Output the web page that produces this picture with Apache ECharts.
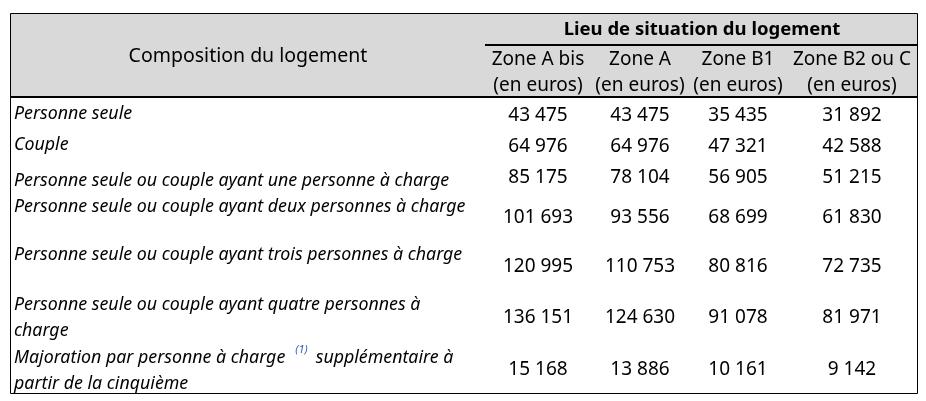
<!DOCTYPE html>
<html>
<head>
<meta charset="utf-8">
<script src="https://cdn.jsdelivr.net/npm/echarts@6/dist/echarts.min.js"></script>
<style>
  html, body { margin: 0; padding: 0; background: #fff; }
  #graph { width: 926px; height: 401px; }
</style>
</head>
<body>
<div id="graph"></div>
<script>
// table content
var rowLabels = [
  'Personne seule',
  'Couple',
  'Personne seule ou couple ayant une personne à charge',
  'Personne seule ou couple ayant deux personnes à charge',
  'Personne seule ou couple ayant trois personnes à charge',
  'Personne seule ou couple ayant quatre personnes à\ncharge',
  'Majoration par personne à charge\npartir de la cinquième'
];
var noteRef = '(1)';
var noteTail = 'supplémentaire à';
var zones = ['Zone A bis', 'Zone A', 'Zone B1', 'Zone B2 ou C'];
var zoneAbis = [43475, 64976, 85175, 101693, 120995, 136151, 15168];
var zoneA = [43475, 64976, 78104, 93556, 110753, 124630, 13886];
var zoneB1 = [35435, 47321, 56905, 68699, 80816, 91078, 10161];
var zoneB2C = [31892, 42588, 51215, 61830, 72735, 81971, 9142];

// layout (pixels)
var tblL = 10, tblR = 917, tblT = 13, tblB = 393, headB = 97;
var colX = [538, 640, 738, 852];
var labelY = [113.5, 144.5, 180.5, 206.5, 254.5, 304.5, 357.5];
var numY = [115.5, 146.5, 177.5, 217.5, 266.5, 317.5, 369.5];
var font = '"Noto Sans", sans-serif';
var ink = '#000';

function fmt(v) {
  return String(v).replace(/\B(?=(\d{3})+(?!\d))/g, ' ');
}

function txt(x, y, s, f, align) {
  return { type: 'text', x: x, y: y, style: { text: s, font: f, fill: ink, align: align || 'center', verticalAlign: 'middle' } };
}

var ctx = document.createElement('canvas').getContext('2d');
function measure(s, f) { ctx.font = f; return ctx.measureText(s).width; }

var dom = document.getElementById('graph');
var myChart = echarts.init(dom);

var els = [];
// header background
els.push({ type: 'rect', shape: { x: tblL, y: tblT, width: tblR - tblL, height: headB - tblT }, style: { fill: '#d9d9d9' } });
els.push(txt(248, 56, 'Composition du logement', '19.5px ' + font));
els.push(txt(702, 30, 'Lieu de situation du logement', 'bold 18.5px ' + font));
els.push({ type: 'line', shape: { x1: 485, y1: 45, x2: tblR, y2: 45 }, style: { stroke: '#000', lineWidth: 2 } });

var numFont = '19px ' + font;
var data = [zoneAbis, zoneA, zoneB1, zoneB2C];
zones.forEach(function (z, i) {
  els.push(txt(colX[i], 60, z, numFont));
  els.push(txt(colX[i], 86, '(en euros)', numFont));
  data[i].forEach(function (v, r) {
    els.push(txt(colX[i], numY[r], fmt(v), numFont));
  });
});

var labFont = 'italic 17.8px ' + font;
rowLabels.forEach(function (t, r) {
  t.split('\n').forEach(function (line, k) {
    els.push(txt(14, labelY[r] + k * 26, line, labFont, 'left'));
  });
});
// footnote marker and rest of the last label's first line
var supFont = 'italic 11px ' + font;
var w0 = measure(rowLabels[6].split('\n')[0], labFont);
els.push({ type: 'text', x: 14 + w0 + 10, y: labelY[6] - 8, style: { text: noteRef, font: supFont, fill: '#3a5fa8', align: 'left', verticalAlign: 'middle' } });
els.push(txt(14 + w0 + 10 + measure(noteRef, supFont) + 8, labelY[6], noteTail, labFont, 'left'));

// borders
els.push({ type: 'line', shape: { x1: tblL, y1: headB, x2: tblR, y2: headB }, style: { stroke: '#000', lineWidth: 2 } });
els.push({ type: 'rect', shape: { x: tblL + 0.5, y: tblT + 0.5, width: tblR - tblL, height: tblB - tblT }, style: { fill: null, stroke: '#000', lineWidth: 1 } });

var option = {
  animation: false,
  graphic: { elements: els }
};
myChart.setOption(option, true);
</script>
</body>
</html>
